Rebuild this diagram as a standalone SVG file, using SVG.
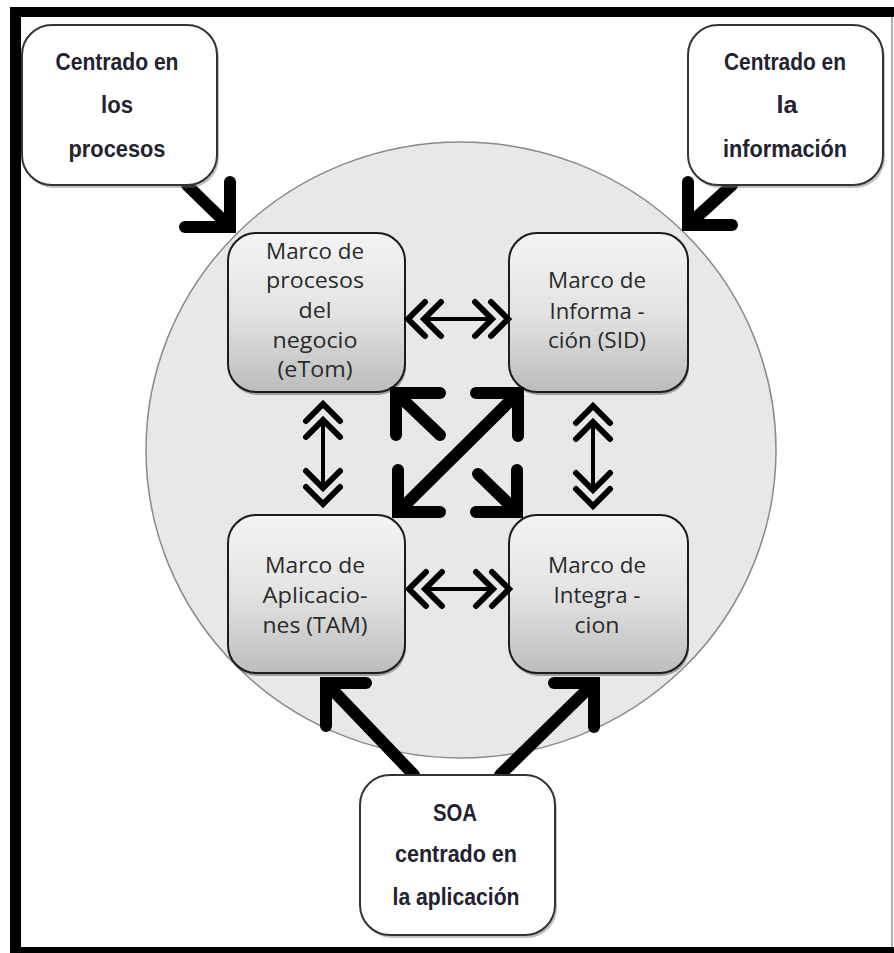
<svg xmlns="http://www.w3.org/2000/svg" xmlns:xlink="http://www.w3.org/1999/xlink" width="894" height="953" viewBox="0 0 894 953">
  <style>
    .frame { fill: #000; }
    .outer { fill: #fff; stroke: #333; stroke-width: 2; }
    .outer-shadow { fill: #777; opacity: 0.45; }
    .inner { fill: url(#boxGrad); stroke: #1c1c1c; stroke-width: 2; }
    .inner-shadow { fill: #444; opacity: 0.45; }
    .lbl-out { font-family: "Liberation Sans", Arial, sans-serif; font-weight: bold; font-size: 23px; fill: #222230; text-anchor: middle; }
    .lbl-in { font-family: "Open Sans", "Liberation Sans", sans-serif; font-size: 21px; fill: #2a2a2a; text-anchor: middle; }
    .thick { fill: none; stroke: #000; stroke-width: 12; stroke-linecap: round; stroke-linejoin: miter; }
    .chev { fill: none; stroke: #000; stroke-width: 6; stroke-linecap: round; stroke-linejoin: miter; }
    .shaft { fill: none; stroke: #000; stroke-width: 4; }
  </style>
  <defs>
    <linearGradient id="boxGrad" x1="0" y1="0" x2="0" y2="1">
      <stop offset="0" stop-color="#f4f4f4"/>
      <stop offset="0.5" stop-color="#e3e3e3"/>
      <stop offset="1" stop-color="#bcbcbc"/>
    </linearGradient>
    <!-- two-way double-chevron arrow, horizontal, centred on the origin -->
    <g id="dblArrow">
      <path class="chev" d="M-33,-17 L-50,0 L-33,17 M-17,-17 L-34,0 L-17,17 M33,-17 L50,0 L33,17 M17,-17 L34,0 L17,17"/>
      <path class="shaft" d="M-34,0 L34,0"/>
    </g>
  </defs>

  <rect width="894" height="953" fill="#fff"/>

  <!-- outer frame -->
  <g id="frame">
    <rect class="frame" x="10" y="7" width="884" height="10"/>
    <rect class="frame" x="10" y="7" width="11" height="946"/>
    <rect class="frame" x="10" y="947" width="884" height="6"/>
    <line x1="892" y1="17" x2="892" y2="947" stroke="#999" stroke-width="1.5"/>
  </g>

  <!-- background disc -->
  <g id="disc">
    <ellipse cx="461" cy="450" rx="315" ry="308" fill="#e8e8e8" stroke="#8a8a8a" stroke-width="1.5"/>
  </g>

  <!-- framework boxes -->
  <g id="etom">
    <rect class="inner-shadow" x="229" y="236" width="177" height="159" rx="28"/>
    <rect class="inner" x="228" y="233" width="177" height="159" rx="28"/>
    <text class="lbl-in" x="315" y="259" textLength="98" lengthAdjust="spacingAndGlyphs">Marco de</text>
    <text class="lbl-in" x="315" y="288" textLength="98" lengthAdjust="spacingAndGlyphs">procesos</text>
    <text class="lbl-in" x="315" y="318" textLength="33" lengthAdjust="spacingAndGlyphs">del</text>
    <text class="lbl-in" x="315" y="348" textLength="85" lengthAdjust="spacingAndGlyphs">negocio</text>
    <text class="lbl-in" x="315" y="377" textLength="75" lengthAdjust="spacingAndGlyphs">(eTom)</text>
  </g>
  <g id="sid">
    <rect class="inner-shadow" x="510" y="236" width="179" height="159" rx="28"/>
    <rect class="inner" x="509" y="233" width="179" height="159" rx="28"/>
    <text class="lbl-in" x="597" y="288" textLength="98" lengthAdjust="spacingAndGlyphs">Marco de</text>
    <text class="lbl-in" x="597" y="319" textLength="95" lengthAdjust="spacingAndGlyphs">Informa -</text>
    <text class="lbl-in" x="597" y="348" textLength="98" lengthAdjust="spacingAndGlyphs">ción (SID)</text>
  </g>
  <g id="tam">
    <rect class="inner-shadow" x="229" y="518" width="177" height="158" rx="28"/>
    <rect class="inner" x="228" y="515" width="177" height="158" rx="28"/>
    <text class="lbl-in" x="315" y="573" textLength="100" lengthAdjust="spacingAndGlyphs">Marco de</text>
    <text class="lbl-in" x="315" y="603" textLength="105" lengthAdjust="spacingAndGlyphs">Aplicacio-</text>
    <text class="lbl-in" x="315" y="633" textLength="105" lengthAdjust="spacingAndGlyphs">nes (TAM)</text>
  </g>
  <g id="integracion">
    <rect class="inner-shadow" x="510" y="518" width="179" height="158" rx="28"/>
    <rect class="inner" x="509" y="515" width="179" height="158" rx="28"/>
    <text class="lbl-in" x="597" y="573" textLength="98" lengthAdjust="spacingAndGlyphs">Marco de</text>
    <text class="lbl-in" x="597" y="603" textLength="87" lengthAdjust="spacingAndGlyphs">Integra -</text>
    <text class="lbl-in" x="597" y="633" textLength="45" lengthAdjust="spacingAndGlyphs">cion</text>
  </g>

  <!-- connectors -->
  <g id="connectors">
    <!-- from the outer viewpoints -->
    <path class="thick" d="M187,185 L230,227 M185,227 L230,227 L230,182"/>
    <path class="thick" d="M732,185 L688,225 M732,225 L688,225 L688,182"/>
    <!-- centre cross -->
    <path class="thick" d="M440,435 L396,393 M440,393 L396,393 L396,435"/>
    <path class="thick" d="M398,512 L518,393 M476,393 L518,393 L518,436 M398,470 L398,512 L440,512"/>
    <path class="thick" d="M478,474 L517,512 M517,470 L517,512 L476,512"/>
    <!-- from SOA -->
    <path class="thick" d="M414,775 L326,683 M366,683 L326,683 L326,726"/>
    <path class="thick" d="M500,775 L594,683 M554,683 L594,683 L594,727"/>
    <!-- two-way links between neighbouring frameworks -->
    <use xlink:href="#dblArrow" transform="translate(458,319)"/>
    <use xlink:href="#dblArrow" transform="translate(459,589)"/>
    <use xlink:href="#dblArrow" transform="translate(323,454) rotate(90)"/>
    <use xlink:href="#dblArrow" transform="translate(593,456) rotate(90)"/>
  </g>

  <!-- viewpoint boxes -->
  <g id="procesos">
    <rect class="outer-shadow" x="24" y="28" width="195" height="160" rx="30"/>
    <rect class="outer" x="22" y="25" width="195" height="160" rx="30"/>
    <text class="lbl-out" x="117" y="70" textLength="123" lengthAdjust="spacingAndGlyphs">Centrado en</text>
    <text class="lbl-out" x="117" y="113" textLength="32" lengthAdjust="spacingAndGlyphs">los</text>
    <text class="lbl-out" x="117" y="157" textLength="97" lengthAdjust="spacingAndGlyphs">procesos</text>
  </g>
  <g id="informacion">
    <rect class="outer-shadow" x="690" y="28" width="195" height="160" rx="30"/>
    <rect class="outer" x="688" y="25" width="195" height="160" rx="30"/>
    <text class="lbl-out" x="785" y="70" textLength="122" lengthAdjust="spacingAndGlyphs">Centrado en</text>
    <text class="lbl-out" x="787" y="113" textLength="21" lengthAdjust="spacingAndGlyphs">la</text>
    <text class="lbl-out" x="785" y="157" textLength="124" lengthAdjust="spacingAndGlyphs">información</text>
  </g>
  <g id="soa">
    <rect class="outer-shadow" x="362" y="778" width="195" height="160" rx="30"/>
    <rect class="outer" x="360" y="775" width="195" height="160" rx="30"/>
    <text class="lbl-out" x="455" y="821" textLength="44" lengthAdjust="spacingAndGlyphs">SOA</text>
    <text class="lbl-out" x="456" y="862" textLength="122" lengthAdjust="spacingAndGlyphs">centrado en</text>
    <text class="lbl-out" x="456" y="905" textLength="127" lengthAdjust="spacingAndGlyphs">la aplicación</text>
  </g>
</svg>
